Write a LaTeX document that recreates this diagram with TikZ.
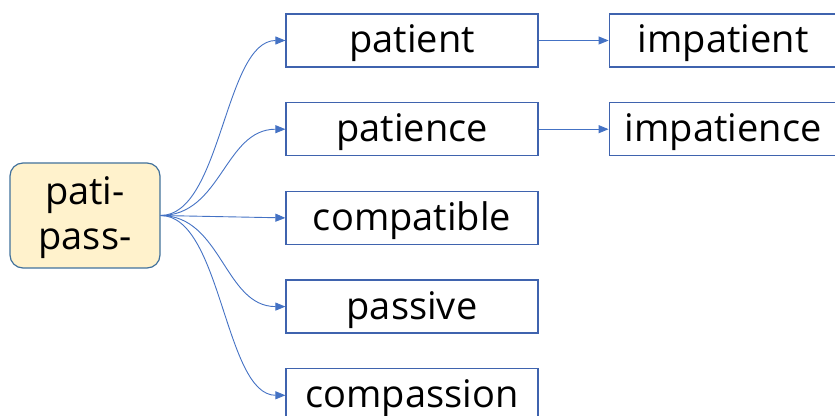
\documentclass[tikz,border=0pt]{standalone}
\usepackage{fontspec}
\setmainfont{Open Sans}
\usepackage{xcolor}
\usepackage{tikz}
\usetikzlibrary{positioning, arrows.meta}
\definecolor{rootfill}{HTML}{FFF2CC}
\definecolor{rootline}{HTML}{41719C}
\definecolor{boxline}{HTML}{3F63AE}
\definecolor{arrowline}{HTML}{4472C4}

\begin{document}
\begin{tikzpicture}[x=1pt, y=1pt, >={Triangle[length=10pt,width=8pt]},
        node distance=34.5pt and 70pt,
        word/.style={draw=boxline, line width=1.2pt, minimum width=252pt, minimum height=53pt,
            inner sep=0pt, text height=32pt, text depth=7pt, font=\fontsize{38}{45}\selectfont},
        stem/.style={draw=rootline, fill=rootfill, line width=1.2pt, rounded corners=13pt,
            minimum width=150pt, minimum height=105pt, inner sep=0pt, align=center,
            text height=78pt, text depth=9pt, font=\fontsize{38}{45}\selectfont}]
        \clip (0,0) rectangle (835,415);
        \node[stem] (root) at (85,199.5) {pati-\\pass-};
        \node[word] (patient) at (412,374.5) {patient};
        \node[word, below=of patient] (patience) {patience};
        \node[word, below=of patience] (compatible) {compatible};
        \node[word, below=of compatible] (passive) {passive};
        \node[word, below=of passive] (compassion) {compassion};
        \node[word, right=of patient, minimum width=228pt] (impatient) {impatient};
        \node[word, right=of patience, minimum width=228pt] (impatience) {impatience};

        \draw[->, arrowline, line width=0.9pt] (root.east) to[out=0, in=180, distance=61pt] (patient.west);
        \draw[->, arrowline, line width=0.9pt] (root.east) to[out=0, in=180, distance=61pt] (patience.west);
        \draw[->, arrowline, line width=0.9pt] (root.east) -- (compatible.west);
        \draw[->, arrowline, line width=0.9pt] (root.east) to[out=0, in=180, distance=61pt] (passive.west);
        \draw[->, arrowline, line width=0.9pt] (root.east) to[out=0, in=180, distance=61pt] (compassion.west);
        \draw[->, arrowline, line width=0.9pt] (patient) -- (impatient);
        \draw[->, arrowline, line width=0.9pt] (patience) -- (impatience);
    \end{tikzpicture}
\end{document}
